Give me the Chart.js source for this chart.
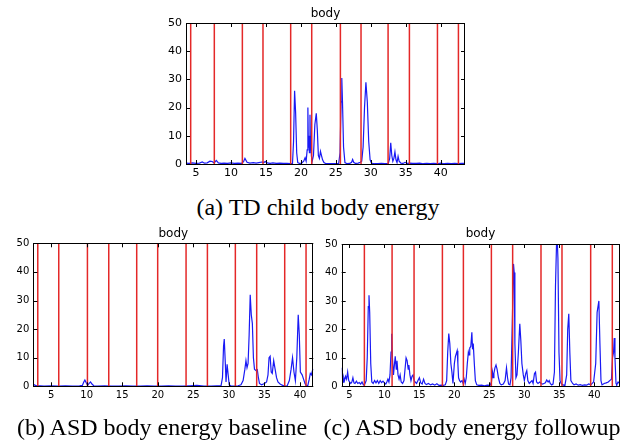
<!DOCTYPE html>
<html>
<head>
<meta charset="utf-8">
<title>body energy</title>
<script src="https://cdn.jsdelivr.net/npm/chart.js@4.4.1/dist/chart.umd.min.js"></script>
<style>
    body { margin: 0; width: 628px; height: 444px; background: #fff; position: relative; overflow: hidden; }
    canvas { position: absolute; }
    .caption {
        position: absolute; width: 400px; text-align: center; white-space: nowrap;
        font-family: "Liberation Serif", "Times New Roman", serif; font-size: 24px; line-height: 24px; color: #000;
    }
</style>
</head>
<body>
<canvas id="chartTD" width="330" height="190" style="left:150px;top:0px"></canvas>
<canvas id="chartBase" width="320" height="190" style="left:0px;top:225px"></canvas>
<canvas id="chartFollow" width="318" height="190" style="left:310px;top:225px"></canvas>
<div class="caption" style="left:118px;top:195px">(a) TD child body energy</div>
<div class="caption" style="left:-38px;top:415px">(b) ASD body energy baseline</div>
<div class="caption" style="left:272px;top:415px">(c) ASD body energy followup</div>

<script>
const xTicks = [5, 10, 15, 20, 25, 30, 35, 40];
const yTicks = [0, 10, 20, 30, 40, 50];

// (a) TD child
const tdX = [3.6, 4.0, 4.5, 5.0, 5.5, 5.9, 6.2, 6.6, 7.0, 7.3, 7.6, 7.9, 8.2, 8.6, 9.0, 9.5, 10.0, 10.5, 11.0, 11.5,
    11.8, 12.0, 12.3, 12.7, 13.2, 13.6, 14.0, 14.4, 14.7, 14.9, 15.2, 15.6, 16.0, 16.5, 17.0, 17.5, 18.0, 18.5, 18.8, 18.95,
    19.1, 19.25, 19.4, 19.55, 19.8, 20.1, 20.4, 20.6, 20.75, 20.9, 21.0, 21.07, 21.15, 21.22, 21.3, 21.37, 21.43, 21.5, 21.6, 21.8,
    22.0, 22.2, 22.35, 22.5, 22.65, 22.8, 22.95, 23.1, 23.3, 23.6, 24.0, 24.5, 25.0, 25.4, 25.6, 25.75, 25.85, 25.95, 26.1, 26.3,
    26.6, 27.0, 27.25, 27.4, 27.55, 27.8, 28.2, 28.5, 28.7, 28.9, 29.1, 29.3, 29.5, 29.7, 29.9, 30.1, 30.5, 31.0, 31.5, 32.0,
    32.5, 32.7, 32.85, 33.0, 33.15, 33.3, 33.45, 33.6, 33.75, 33.9, 34.05, 34.3, 34.6, 34.9, 35.2, 35.6, 36.0, 36.5, 37.0, 37.5,
    38.0, 38.5, 39.0, 39.5, 40.0, 40.5, 41.0, 41.5, 42.0, 42.5, 43.0, 43.5];
const tdY = [0.3, 0.2, 0.4, 0.2, 0.3, 0.7, 0.3, 0.4, 1.0, 0.9, 0.4, 1.3, 0.4, 0.2, 0.3, 0.2, 0.4, 0.2, 0.3, 0.2,
    0.8, 2.0, 0.6, 0.3, 0.5, 0.3, 0.5, 0.7, 0.5, 0.9, 0.4, 0.2, 0.4, 0.2, 0.3, 0.2, 0.2, 0.1, 0.2, 8,
    26, 18, 4, 0.5, 0.2, 0.3, 1.0, 2.2, 1.0, 5, 20, 6, 10, 4, 17.5, 5, 10, 3, 0.8, 3,
    14, 18, 12, 3, 2, 4.5, 3, 1.5, 0.5, 0.1, 0.1, 0.1, 0.1, 0.1, 4, 22, 30.5, 22, 6, 0.5,
    0.1, 0.2, 0.6, 1.6, 0.6, 0.2, 0.3, 0.6, 1, 6, 20, 29, 22, 8, 1.5, 0.3, 0.1, 0.1, 0.2, 0.1,
    0.2, 2, 7.5, 3, 1, 2, 4.3, 1.5, 0.5, 2.7, 1, 0.3, 0.2, 0.6, 0.2, 0.3, 0.2, 0.2, 0.3, 0.1,
    0.2, 0.1, 0.2, 0.1, 0.3, 0.1, 0.2, 0.1, 0.2, 0.1, 0.2, 0.2];
const tdCuts = [4.24, 7.62, 11.63, 14.58, 18.54, 21.55, 25.65, 28.6, 32.47, 35.52, 39.53, 42.53];

// (b) ASD baseline
const baseX = [2.5, 2.7, 3.0, 3.5, 4.0, 5.0, 6.0, 7.0, 8.0, 9.0, 9.4, 9.6, 9.75, 9.95, 10.15, 10.35, 10.55, 10.75, 11.0, 11.5,
    12.5, 13.5, 14.5, 15.5, 16.5, 17.5, 18.5, 19.5, 20.5, 21.5, 22.5, 23.5, 24.5, 25.5, 26.5, 27.5, 28.3, 28.9, 29.1, 29.25,
    29.35, 29.5, 29.6, 29.75, 29.9, 30.05, 30.3, 30.8, 31.3, 31.7, 32.0, 32.25, 32.4, 32.55, 32.7, 32.85, 33.0, 33.15, 33.3, 33.45,
    33.6, 33.8, 34.0, 34.15, 34.3, 34.6, 35.0, 35.3, 35.5, 35.65, 35.8, 35.95, 36.1, 36.3, 36.5, 36.7, 36.9, 37.2, 37.5, 37.8,
    38.2, 38.5, 38.75, 38.95, 39.15, 39.35, 39.55, 39.75, 39.9, 40.05, 40.3, 40.5, 40.7, 40.9, 41.1, 41.3, 41.45, 41.6, 41.75, 41.9];
const baseY = [0.8, 0.4, 0.2, 0.2, 0.1, 0.2, 0.1, 0.2, 0.1, 0.2, 0.3, 1.5, 2.2, 1.2, 0.4, 1.0, 1.5, 0.8, 0.2, 0.1,
    0.2, 0.1, 0.1, 0.2, 0.1, 0.1, 0.2, 0.1, 0.1, 0.2, 0.1, 0.1, 0.2, 0.3, 0.1, 0.1, 0.2, 0.2, 3, 14,
    16.5, 8, 1.5, 7.7, 4, 0.5, 0.1, 0.1, 0.2, 0.5, 2, 6, 9, 6.5, 8, 18, 32, 25, 22, 10,
    6, 5.5, 5.8, 3, 1, 0.5, 1, 1.5, 4, 10, 10.5, 5, 4.5, 9, 6, 3, 1.5, 0.8, 0.4, 0.1,
    0.2, 2, 6, 10, 5, 2, 10, 25, 18, 5, 4, 2.5, 1, 0.2, 0.3, 2.5, 4.5, 4, 5.5, 6];
const baseCuts = [3.13, 6.08, 10.11, 13.11, 17.04, 19.99, 23.98, 26.98, 30.91, 33.91, 37.85, 40.85];

// (c) ASD followup
const followX = [3.9, 4.0, 4.1, 4.2, 4.3, 4.45, 4.6, 4.75, 4.9, 5.05, 5.2, 5.35, 5.5, 5.65, 5.8, 6.0, 6.2, 6.4, 6.6, 6.8,
    7.0, 7.2, 7.4, 7.55, 7.7, 7.8, 7.9, 8.05, 8.2, 8.4, 8.6, 8.8, 9.0, 9.2, 9.4, 9.6, 9.8, 10.0, 10.2, 10.35,
    10.5, 10.65, 10.8, 10.95, 11.05, 11.15, 11.3, 11.45, 11.55, 11.7, 11.8, 11.95, 12.1, 12.25, 12.4, 12.6, 12.8, 12.95, 13.1, 13.25,
    13.4, 13.5, 13.65, 13.8, 13.95, 14.1, 14.25, 14.4, 14.6, 14.8, 15.0, 15.2, 15.4, 15.6, 15.8, 16.0, 16.3, 16.6, 16.9, 17.2,
    17.5, 17.8, 18.1, 18.4, 18.7, 18.9, 19.05, 19.2, 19.35, 19.5, 19.65, 19.8, 20.0, 20.15, 20.4, 20.5, 20.6, 20.75, 20.9, 21.1,
    21.25, 21.4, 21.55, 21.7, 21.85, 22.0, 22.1, 22.2, 22.35, 22.5, 22.6, 22.7, 22.85, 23.0, 23.2, 23.5, 23.9, 24.3, 24.7, 25.1,
    25.3, 25.45, 25.55, 25.65, 25.8, 25.95, 26.1, 26.3, 26.5, 26.7, 27.0, 27.25, 27.45, 27.6, 27.75, 27.95, 28.1, 28.3, 28.45, 28.55,
    28.65, 28.8, 28.95, 29.15, 29.35, 29.5, 29.65, 29.85, 30.0, 30.2, 30.35, 30.5, 30.7, 30.9, 31.1, 31.25, 31.45, 31.6, 31.75, 31.95,
    32.2, 32.4, 32.6, 32.8, 33.0, 33.2, 33.4, 33.55, 33.7, 33.9, 34.1, 34.3, 34.45, 34.65, 34.8, 34.95, 35.1, 35.25, 35.5, 35.8,
    36.05, 36.2, 36.35, 36.5, 36.65, 36.9, 37.1, 37.4, 37.7, 38.0, 38.3, 38.6, 38.9, 39.2, 39.5, 39.7, 39.9, 40.2, 40.4, 40.65,
    40.8, 40.95, 41.1, 41.4, 41.7, 42.0, 42.2, 42.45, 42.6, 42.75, 42.85, 42.95, 43.1, 43.2, 43.4, 43.6];
const followY = [6.5, 3, 1.5, 3, 2, 3.5, 2.5, 5, 2, 1.5, 1, 1.5, 3, 1.2, 1, 1.8, 1, 1.3, 0.8, 1.5,
    0.5, 0.8, 2, 10, 28, 32, 26, 8, 1.5, 1, 2, 1.2, 2, 1, 2, 1.3, 1.8, 1.2, 0.8, 1.5,
    2.5, 1.5, 4, 12, 18.5, 10, 4, 8, 10.5, 6, 9, 4, 2.5, 4, 1.5, 1, 2, 6, 10, 9,
    6, 7.5, 4, 2, 3.5, 4, 2, 1.5, 1, 2, 3, 1.2, 0.8, 2.5, 1, 0.6, 1, 0.5, 0.8, 0.4,
    0.9, 0.3, 0.4, 0.3, 0.5, 2, 12, 18.5, 15, 8, 5, 1, 8, 10.5, 12.5, 8, 3, 2, 1.5, 2,
    1, 2.5, 1, 3, 8, 12, 11, 13.5, 14, 19, 13, 15, 8, 2, 0.5, 0.3, 0.4, 0.2, 0.4, 0.3,
    1.5, 5, 3, 4.5, 6.5, 7.5, 6, 3, 1, 0.5, 0.8, 2, 6.5, 3, 0.8, 0.5, 3, 25, 43, 40,
    15, 3, 4, 12, 22, 16, 8, 4, 2, 4.5, 5.5, 2, 1, 1.5, 2, 1, 4.5, 5, 1.5, 1,
    1.5, 1, 0.8, 1, 1.2, 2.2, 1.5, 2, 1, 0.5, 0.8, 5, 35, 55, 45, 12, 2, 1, 0.5, 0.3,
    4, 20, 25.5, 12, 2, 1, 0.5, 0.8, 0.4, 0.6, 0.3, 0.5, 0.4, 0.8, 0.5, 1, 1.5, 8, 26, 30,
    15, 2, 0.5, 1, 1.2, 1.5, 2, 2.5, 10, 12, 17, 10, 1, 0.5, 1.5, 1];
const followCuts = [7.14, 11.1, 14.24, 18.29, 21.29, 25.29, 28.33, 32.38, 35.38, 39.48, 42.57];

// inside tick marks on all four sides plus the axes frame
const frameTicks = {
    id: 'frameTicks',
    afterDatasetsDraw(chart) {
        const { ctx, chartArea: a, scales: { x, y } } = chart;
        const len = 4;
        ctx.save();
        ctx.strokeStyle = '#000';
        ctx.lineWidth = 1;
        ctx.beginPath();
        x.ticks.forEach(t => {
            const px = Math.round(x.getPixelForValue(t.value)) + 0.5;
            ctx.moveTo(px, a.bottom); ctx.lineTo(px, a.bottom - len);
            ctx.moveTo(px, a.top); ctx.lineTo(px, a.top + len);
        });
        y.ticks.forEach(t => {
            const py = Math.round(y.getPixelForValue(t.value)) + 0.5;
            ctx.moveTo(a.left, py); ctx.lineTo(a.left + len, py);
            ctx.moveTo(a.right, py); ctx.lineTo(a.right - len, py);
        });
        ctx.stroke();
        ctx.strokeRect(Math.round(a.left) + 0.5, Math.round(a.top) + 0.5,
            Math.round(a.right - a.left) - 1, Math.round(a.bottom - a.top));
        ctx.restore();
    }
};

function toPoints(xs, ys) {
    return xs.map((x, i) => ({ x: x, y: ys[i] }));
}

function cutPoints(cuts) {
    return cuts.flatMap(c => [{ x: c, y: 0 }, { x: c, y: 50 }, { x: c, y: null }]);
}

function makeChart(id, xs, ys, cuts, o) {
    return new Chart(document.getElementById(id), {
        type: 'line',
        data: {
            datasets: [{
                data: cutPoints(cuts),
                borderColor: 'rgb(228, 40, 40)',
                borderWidth: 1.5,
                pointRadius: 0,
                spanGaps: false
            }, {
                data: toPoints(xs, ys),
                borderColor: 'rgb(25, 25, 245)',
                borderWidth: 1.2,
                pointRadius: 0,
                tension: 0
            }]
        },
        options: {
            responsive: false,
            animation: false,
            events: [],
            layout: { padding: { left: 0, right: o.padRight, top: 0, bottom: 0 } },
            plugins: {
                legend: { display: false },
                tooltip: { enabled: false },
                title: {
                    display: true,
                    text: 'body',
                    fullSize: false,
                    color: '#000',
                    font: { family: 'DejaVu Sans', size: 12, weight: 'normal' },
                    padding: { top: o.titleTop, bottom: o.titleBottom }
                }
            },
            scales: {
                x: {
                    type: 'linear',
                    min: o.xMin,
                    max: o.xMax,
                    grid: { display: false, drawTicks: false },
                    border: { display: false },
                    ticks: { color: '#000', padding: o.xPad, maxRotation: 0, font: { family: 'DejaVu Sans', size: o.fontSize } },
                    afterBuildTicks: s => { s.ticks = xTicks.map(v => ({ value: v })); },
                    afterFit: s => { s.height = o.xHeight; }
                },
                y: {
                    min: 0,
                    max: 50,
                    grid: { display: false, drawTicks: false },
                    border: { display: false },
                    ticks: { color: '#000', padding: 4, font: { family: 'DejaVu Sans', size: o.fontSize } },
                    afterBuildTicks: s => { s.ticks = yTicks.map(v => ({ value: v })); },
                    afterFit: s => { s.width = o.yWidth; }
                }
            }
        },
        plugins: [frameTicks]
    });
}

makeChart('chartTD', tdX, tdY, tdCuts, {
    xMin: 3.57, xMax: 43.47, yWidth: 36, xHeight: 26, padRight: 15,
    titleTop: 6.8, titleBottom: 1.8, xPad: 2.4, fontSize: 11
});
makeChart('chartBase', baseX, baseY, baseCuts, {
    xMin: 2.5, xMax: 41.87, yWidth: 33.3, xHeight: 28.7, padRight: 6.7,
    titleTop: 1.8, titleBottom: 2.1, xPad: 2.7, fontSize: 10
});
makeChart('chartFollow', followX, followY, followCuts, {
    xMin: 3.9, xMax: 43.57, yWidth: 31.7, xHeight: 28.7, padRight: 8.7,
    titleTop: 1.8, titleBottom: 2.8, xPad: 2.7, fontSize: 10
});
</script>
</body>
</html>
